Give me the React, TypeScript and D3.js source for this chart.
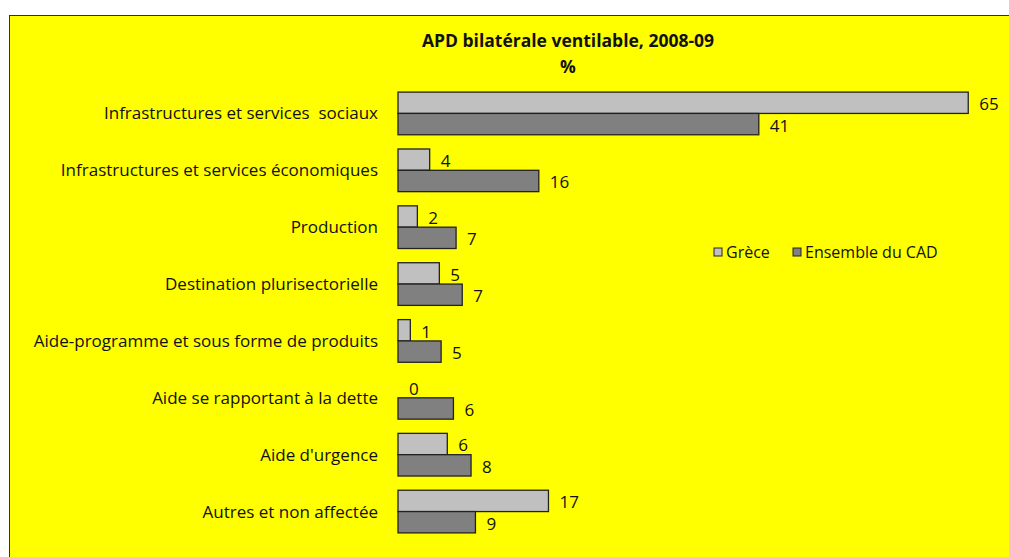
import { useEffect, useRef } from "react";
import * as d3 from "d3";

const categories = [
  "Infrastructures et services  sociaux",
  "Infrastructures et services économiques",
  "Production",
  "Destination plurisectorielle",
  "Aide-programme et sous forme de produits",
  "Aide se rapportant à la dette",
  "Aide d'urgence",
  "Autres et non affectée",
];
// values; labels show them rounded
const greece = [64.8, 3.6, 2.2, 4.7, 1.4, 0, 5.6, 17.1];
const dac = [41.0, 16.0, 6.6, 7.3, 4.9, 6.3, 8.3, 8.8];
const seriesNames = ["Grèce", "Ensemble du CAD"];
const seriesColors = ["#c0c0c0", "#808080"];

const FONT = "'Open Sans', sans-serif";
const fmt = d3.format(".0f");

export default function App() {
  const ref = useRef<SVGSVGElement>(null);

  useEffect(() => {
    const svg = d3.select(ref.current);
    svg.selectAll("*").remove();

    svg.append("rect")
      .attr("x", 9.5).attr("y", 15.5)
      .attr("width", 1100).attr("height", 600)
      .attr("fill", "#ffff00")
      .attr("stroke", "#333").attr("stroke-width", 1);

    const x = d3.scaleLinear().domain([0, 65]).range([398, 970]);
    const y = d3.scaleBand<string>()
      .domain(categories)
      .range([85, 540])
      .paddingInner(0.25)
      .paddingOuter(0.125);
    const sub = d3.scaleBand<number>().domain([0, 1]).range([0, y.bandwidth()]);

    // title
    const title = svg.append("g").attr("font-family", FONT).attr("font-weight", "bold")
      .attr("font-size", 17.5).attr("text-anchor", "middle").attr("fill", "#111");
    title.append("text").attr("x", 568).attr("y", 47).text("APD bilatérale ventilable, 2008-09");
    title.append("text").attr("x", 568).attr("y", 73).text("%");

    // category labels
    svg.append("g").selectAll("text")
      .data(categories)
      .join("text")
      .attr("x", 378)
      .attr("y", d => y(d)! + y.bandwidth() / 2)
      .attr("dy", "0.35em")
      .attr("text-anchor", "end")
      .attr("font-family", FONT)
      .attr("font-size", 17)
      .attr("fill", "#111")
      .style("white-space", "pre")
      .text(d => d);

    const series = [greece, dac];
    series.forEach((vals, s) => {
      const g = svg.append("g");
      g.selectAll("rect")
        .data(vals)
        .join("rect")
        .attr("x", x(0))
        .attr("y", (_, i) => y(categories[i])! + sub(s)!)
        .attr("width", d => x(d) - x(0))
        .attr("height", sub.bandwidth())
        .attr("fill", seriesColors[s])
        .attr("stroke", "#222")
        .attr("stroke-width", 1.3);
      g.selectAll("text")
        .data(vals)
        .join("text")
        .attr("x", d => x(d) + 11)
        .attr("y", (_, i) => y(categories[i])! + sub(s)! + sub.bandwidth() / 2 + 1.5)
        .attr("dy", "0.35em")
        .attr("font-family", FONT)
        .attr("font-size", 17)
        .attr("fill", "#111")
        .text(d => fmt(d));
    });

    // legend
    const legendX = [714, 793];
    seriesNames.forEach((name, s) => {
      svg.append("rect")
        .attr("x", legendX[s]).attr("y", 248)
        .attr("width", 8).attr("height", 8)
        .attr("fill", seriesColors[s])
        .attr("stroke", "#222").attr("stroke-width", 1);
      svg.append("text")
        .attr("x", legendX[s] + 12).attr("y", 252)
        .attr("dy", "0.35em")
        .attr("font-family", FONT)
        .attr("font-size", 16)
        .attr("fill", "#111")
        .text(name);
    });
  }, []);

  return (
    <svg
      ref={ref}
      width={1009}
      height={557}
      style={{ position: "absolute", left: 0, top: 0, background: "#fff" }}
    />
  );
}
